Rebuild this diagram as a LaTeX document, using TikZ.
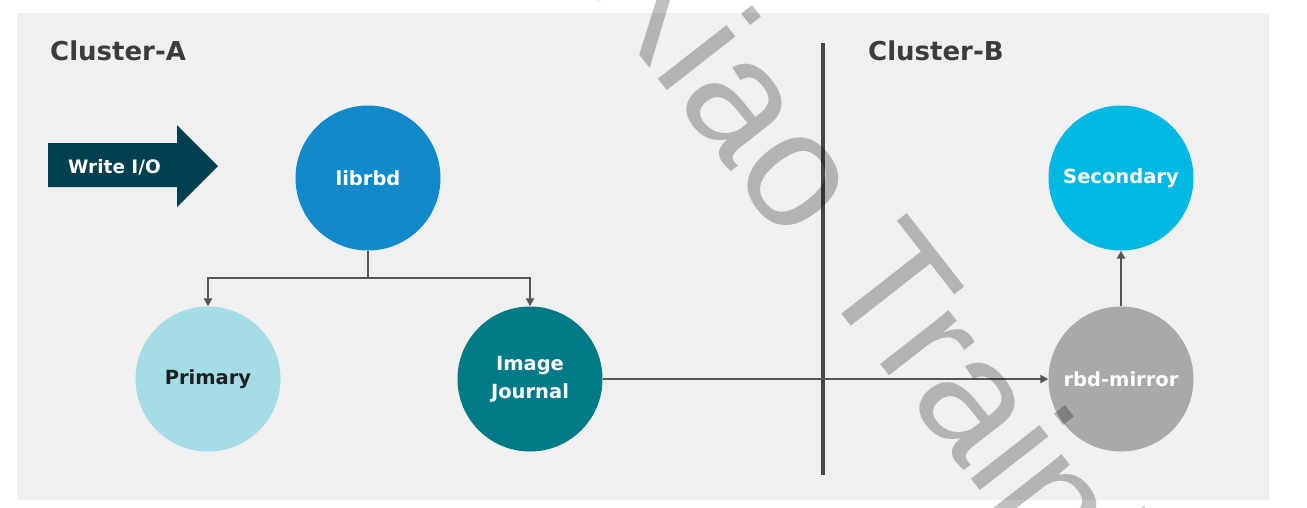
\documentclass[tikz,border=0pt]{standalone}
\usepackage{fontspec}
\setmainfont{DejaVu Sans}
\newfontfamily\wmfont{Liberation Sans}
\usetikzlibrary{arrows.meta}
\definecolor{panelbg}{HTML}{F0F0F0}
\definecolor{clibrbd}{HTML}{1289CA}
\definecolor{cprimary}{HTML}{A4DDE8}
\definecolor{cjournal}{HTML}{007A87}
\definecolor{cmirror}{HTML}{A9A9A9}
\definecolor{csecondary}{HTML}{00B9E2}
\definecolor{cwio}{HTML}{00404F}
\definecolor{cline}{HTML}{555555}
\definecolor{cdiv}{HTML}{464646}
\definecolor{clabel}{HTML}{3C3C3C}
\tikzset{
  disc/.style={circle, minimum size=145pt, inner sep=0pt, text=white,
    font=\bfseries\fontsize{19.5}{28}\selectfont, align=center},
  conn/.style={draw=cline, line width=2pt,
    -{Triangle[length=8pt,width=8pt]}},
  clusterlbl/.style={anchor=base west, inner sep=0pt, text=clabel,
    font=\bfseries\fontsize{26}{30}\selectfont}
}
\begin{document}
\begin{tikzpicture}[x=1pt,y=-1pt]
\useasboundingbox (0,0) rectangle (1307,507);
\clip (0,0) rectangle (1307,507);
\fill[white] (0,0) rectangle (1307,507);
\fill[panelbg] (17,13) rectangle (1269,500);

% cluster labels
\node[clusterlbl] (ca) at (50,60) {Cluster-A};
\node[clusterlbl] (cb) at (868,60) {Cluster-B};

% divider
\coordinate (dtop) at (823,43);
\coordinate (dbot) at (823,475);
\draw[cdiv, line width=4pt] (dtop) -- (dbot);

% write I/O arrow
\fill[cwio] (48,143) -- (177,143) -- (177,125) -- (218,166) -- (177,207)
  -- (177,187) -- (48,187) -- cycle;
\node[text=white, font=\bfseries\fontsize{18.5}{22}\selectfont, inner sep=0pt]
  (wio) at (114.5,167) {Write I/O};

% circles
\node[disc, fill=clibrbd] (librbd) at (368,178) {librbd};
\node[disc, fill=cprimary, text=black!88] (primary) at (208,379) {Primary};
\node[disc, fill=cjournal] (journal) at (530,379) {Image\\Journal};
\node[disc, fill=cmirror] (mirror) at (1121,379) {rbd-mirror};
\node[disc, fill=csecondary] (secondary) at (1121,178) {Secondary};

% connectors
\coordinate (jn) at (368,278);
\draw[cline, line width=2pt] (librbd) -- (jn);
\draw[conn] (jn) -| (primary);
\draw[conn] (jn) -| (journal);
\draw[conn] (journal) -- (mirror);
\draw[conn] (mirror) -- (secondary);

% watermark
\node[anchor=base west, rotate=-52, inner sep=0pt, text=black, text opacity=0.25,
  font=\wmfont\fontsize{165}{165}\selectfont] (wm) at (584,-16) {Xiao Training};
\end{tikzpicture}
\end{document}
